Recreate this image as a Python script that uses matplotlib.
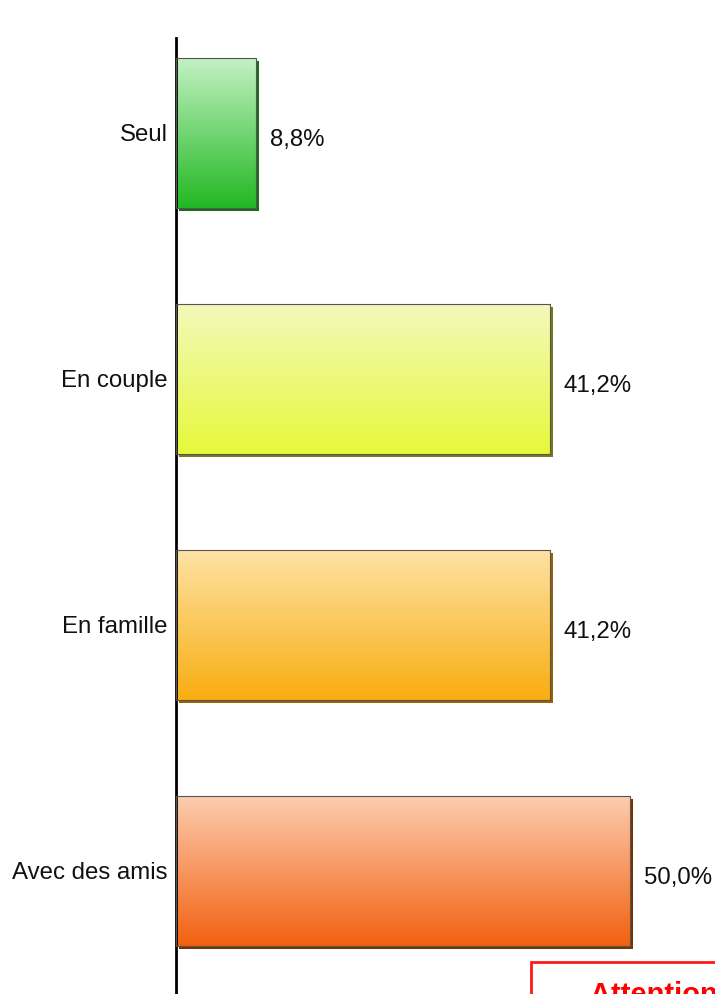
import numpy as np
import matplotlib
matplotlib.use("Agg")
import matplotlib.pyplot as plt
import matplotlib.transforms as mtransforms
from matplotlib.colors import LinearSegmentedColormap
from matplotlib.patches import Rectangle

categories = ["Seul", "En couple", "En famille", "Avec des amis"]
values = [8.8, 41.2, 41.2, 50.0]
labels = ["8,8%", "41,2%", "41,2%", "50,0%"]
top_colors = ["#c4f2c4", "#f4f9bc", "#fde3a6", "#fccdb0"]
bottom_colors = ["#22b822", "#e6f83a", "#f9ad10", "#f26010"]
shadow_colors = ["#167016", "#7a7a18", "#9a6200", "#7a3300"]

plt.rcParams['font.family'] = ['Liberation Sans', 'DejaVu Sans']

fig = plt.figure(figsize=(7.15, 9.94), dpi=100)
W, H = 715, 994
ax = fig.add_axes([176 / W, 0, 1 - 176 / W, 1 - 38 / H])
ax.set_facecolor("none")

bh = 0.61
ypos = np.arange(len(categories))
shadow_tr = ax.transData + mtransforms.ScaledTranslation(3 / 100, -3 / 100, fig.dpi_scale_trans)

for i, (v, lab) in enumerate(zip(values, labels)):
    y0 = ypos[i] - bh / 2
    sh = Rectangle((0, y0), v, bh, facecolor=shadow_colors[i], edgecolor="none",
                   transform=shadow_tr, zorder=1)
    ax.add_patch(sh)
    cmap = LinearSegmentedColormap.from_list("g%d" % i, [top_colors[i], bottom_colors[i]])
    grad = np.linspace(0, 1, 256).reshape(-1, 1)
    im = ax.imshow(grad, cmap=cmap, aspect="auto", extent=(0, v, ypos[i] + bh / 2, y0),
                   origin="upper", zorder=2, interpolation="bilinear")
    rect = Rectangle((0, y0), v, bh, facecolor="none", edgecolor="#555555", lw=0.8, zorder=3)
    ax.add_patch(rect)
    im.set_clip_path(rect)
    ax.text(v + 1.5, ypos[i] + 0.03, lab, va="center", ha="left", fontsize=17.3, color="#111111")
    ax.text(-0.9, ypos[i] + 0.01, categories[i], va="center", ha="right", fontsize=17.3, color="#111111")

ax.set_xlim(0, (715 - 176) / 9.08)
ax.set_ylim(3.5, -0.386)
for s in ["top", "right", "bottom"]:
    ax.spines[s].set_visible(False)
ax.spines["left"].set_linewidth(2)
ax.spines["left"].set_color("black")
ax.set_xticks([])
ax.set_yticks([])

# Red warning box (cut off at bottom-right, as in the original)
box = Rectangle((531 / W, -0.05), 0.5, 0.05 + (1 - 962 / H), transform=fig.transFigure,
                facecolor="white", edgecolor="#ff1a1a", lw=2, zorder=5)
fig.add_artist(box)
fig.text(590 / W, 1 - 981 / H, "Attention !", color="#ff0000", fontsize=21, fontweight="bold",
         va="top", ha="left", zorder=6)

fig.savefig("out.png", dpi=100)
